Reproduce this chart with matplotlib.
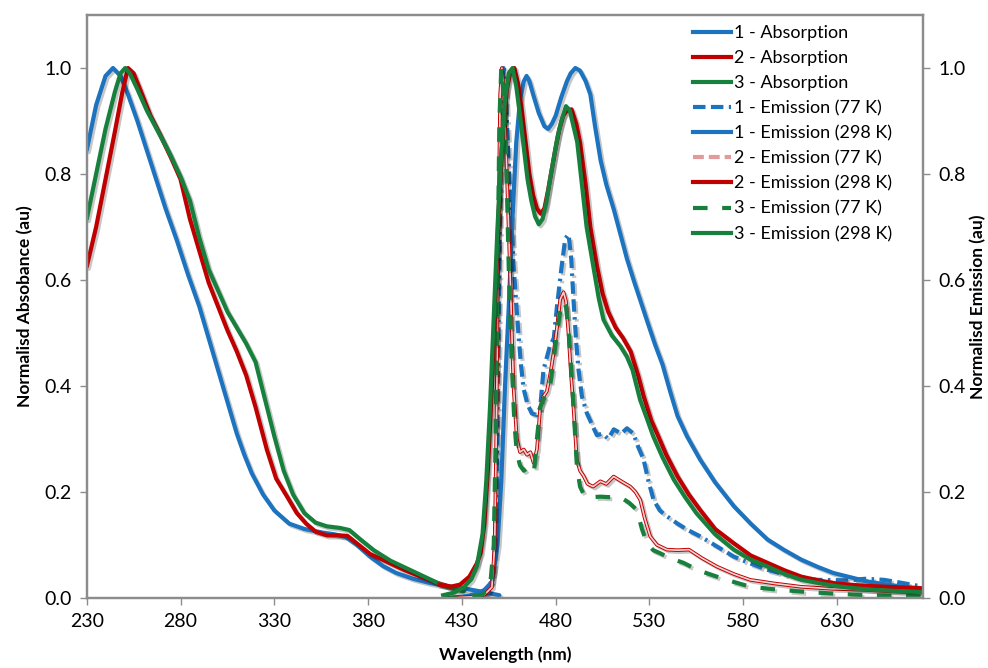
import numpy as np
import matplotlib.pyplot as plt
import matplotlib.patheffects as pe
from matplotlib.lines import Line2D

plt.rcParams['font.family'] = ['Lato', 'DejaVu Sans']
plt.rcParams['font.size'] = 14

# ---- absorption spectra (wavelength in nm, normalised) ----
abs1_wl = [230, 235, 240, 244, 248, 252, 257, 262, 267, 272, 278, 284, 290, 295, 300, 305, 310, 314,
           318, 324, 330, 338, 346, 356, 362, 368, 374, 381, 388, 395, 404, 413, 422, 431, 440, 450]
abs1 = [0.845, 0.93, 0.985, 1.0, 0.985, 0.95, 0.90, 0.845, 0.79, 0.735, 0.675, 0.61, 0.55, 0.49, 0.43,
        0.37, 0.31, 0.27, 0.235, 0.195, 0.165, 0.14, 0.13, 0.123, 0.12, 0.115, 0.10, 0.078, 0.06, 0.047,
        0.036, 0.028, 0.022, 0.018, 0.012, 0.005]

abs2_wl = [230, 235, 240, 245, 249, 252, 255, 259, 264, 269, 275, 280, 285, 290, 295, 300, 305, 310,
           315, 320, 326, 331, 337, 342, 347, 352, 358, 364, 369, 375, 381, 390, 399, 408, 417, 424]
abs2 = [0.625, 0.70, 0.79, 0.88, 0.955, 1.0, 0.99, 0.955, 0.91, 0.875, 0.83, 0.79, 0.715, 0.655, 0.595,
        0.55, 0.505, 0.465, 0.42, 0.36, 0.28, 0.225, 0.19, 0.16, 0.14, 0.125, 0.118, 0.118, 0.117, 0.10,
        0.083, 0.068, 0.053, 0.04, 0.028, 0.021]

abs3_wl = [230, 235, 240, 245, 248, 250.5, 253, 257, 262, 268, 274, 280, 285, 290, 295, 300, 305, 310,
           315, 320, 325, 330, 335, 340, 346, 352, 358, 365, 370, 376, 383, 392, 401, 410, 419, 425, 431]
abs3 = [0.715, 0.80, 0.885, 0.955, 0.99, 1.0, 0.99, 0.96, 0.92, 0.88, 0.84, 0.795, 0.75, 0.68, 0.62,
        0.58, 0.54, 0.51, 0.48, 0.445, 0.375, 0.305, 0.24, 0.195, 0.16, 0.142, 0.135, 0.132, 0.128, 0.11,
        0.09, 0.07, 0.055, 0.04, 0.025, 0.018, 0.012]

# ---- emission at 298 K ----
em298_1_wl = [425, 432, 438, 442, 446, 449, 451, 453, 455, 457, 459, 461, 463, 464.5, 466, 468, 471, 474,
              476, 478, 480, 483, 486, 488, 490.5, 493, 496, 498.5, 501, 504, 507, 511, 515, 518, 522, 525,
              529, 533, 537, 541, 545, 550, 557, 565, 575, 584, 593, 602, 611, 620, 628, 637, 646, 655,
              665, 676]
em298_1 = [0.0, 0.003, 0.008, 0.015, 0.03, 0.1, 0.22, 0.4, 0.55, 0.72, 0.86, 0.94, 0.975, 0.985, 0.975,
           0.95, 0.915, 0.89, 0.885, 0.895, 0.91, 0.945, 0.975, 0.99, 1.0, 0.995, 0.975, 0.95, 0.89,
           0.825, 0.78, 0.733, 0.68, 0.64, 0.595, 0.563, 0.52, 0.478, 0.44, 0.39, 0.343, 0.305, 0.261,
           0.218, 0.173, 0.14, 0.11, 0.09, 0.072, 0.058, 0.047, 0.039, 0.031, 0.026, 0.021, 0.017]

em298_2_wl = [418, 424, 429, 434, 438, 440, 442, 444, 446, 448, 450, 452, 454, 456, 458, 460, 462, 464,
              466, 468, 470, 472, 474, 476, 478, 480, 482, 484, 486, 488.5, 491, 493, 496, 498.5, 502,
              505, 508, 512, 516, 520, 524, 527, 531, 534, 539, 545, 551, 557, 565, 575, 584, 593, 602,
              611, 620, 630, 640, 650, 662, 676]
em298_2 = [0.025, 0.021, 0.025, 0.04, 0.065, 0.085, 0.14, 0.25, 0.4, 0.58, 0.76, 0.89, 0.96, 0.995, 1.0,
           0.97, 0.92, 0.86, 0.8, 0.76, 0.735, 0.725, 0.735, 0.77, 0.81, 0.85, 0.885, 0.91, 0.92, 0.922,
           0.895, 0.86, 0.78, 0.70, 0.627, 0.575, 0.54, 0.51, 0.49, 0.465, 0.42, 0.38, 0.335, 0.311, 0.27,
           0.229, 0.195, 0.166, 0.13, 0.103, 0.08, 0.066, 0.052, 0.04, 0.033, 0.027, 0.024, 0.022, 0.02,
           0.018]

em298_3_wl = [420, 426, 431, 435, 438, 441, 443, 445, 447, 449, 451, 453, 455, 457, 459, 461, 463, 465,
              467, 469, 471, 473, 475, 477, 479, 481, 483, 485.5, 487.5, 489.5, 491.5, 494, 496.5, 500,
              503, 505.5, 510, 514.5, 518, 521, 525, 529, 532, 537, 543, 549, 555, 565, 575, 584, 593,
              602, 611, 620, 630, 640, 650, 662, 676]
em298_3 = [0.005, 0.01, 0.02, 0.035, 0.06, 0.12, 0.22, 0.36, 0.53, 0.7, 0.84, 0.94, 0.99, 1.0, 0.965,
           0.91, 0.85, 0.79, 0.75, 0.72, 0.705, 0.715, 0.745, 0.79, 0.83, 0.87, 0.9, 0.928, 0.92, 0.89,
           0.86, 0.78, 0.70, 0.627, 0.565, 0.525, 0.495, 0.475, 0.455, 0.43, 0.374, 0.335, 0.305, 0.265,
           0.223, 0.19, 0.16, 0.12, 0.091, 0.072, 0.059, 0.045, 0.034, 0.028, 0.022, 0.018, 0.015, 0.013,
           0.011]

# ---- emission at 77 K ----
em77_1_wl = [430, 438, 444, 447, 448.5, 449.5, 450.5, 451.5, 452.2, 453.2, 454.9, 456.2, 457.5, 459,
             460.2, 461.5, 462.9, 465, 467.3, 470, 471.8, 473.5, 475, 477, 479, 480.7, 483, 485.1, 486.9,
             488.3, 489.5, 491, 492.2, 494, 496.7, 499, 502, 505, 508, 511, 515, 518, 521.5, 524, 526.9,
             529.5, 532.2, 535.5, 539.3, 545, 551, 557.1, 566, 574.9, 583, 592.7, 605, 619.3, 635, 645,
             655, 665, 676]
em77_1 = [0.0, 0.003, 0.01, 0.05, 0.2, 0.5, 0.8, 0.96, 1.0, 0.96, 0.83, 0.73, 0.63, 0.555, 0.496, 0.44,
          0.395, 0.365, 0.348, 0.345, 0.36, 0.43, 0.45, 0.476, 0.49, 0.55, 0.62, 0.678, 0.686, 0.64,
          0.563, 0.48, 0.43, 0.38, 0.348, 0.33, 0.307, 0.31, 0.3, 0.318, 0.31, 0.32, 0.31, 0.285, 0.261,
          0.22, 0.185, 0.165, 0.154, 0.14, 0.127, 0.116, 0.097, 0.078, 0.066, 0.053, 0.042, 0.034, 0.033,
          0.036, 0.034, 0.028, 0.021]

em77_2_wl = [425, 435, 442, 446, 447.5, 448.5, 449.5, 450.4, 451.3, 452.5, 454, 455.8, 457.5, 459.3,
             461, 463, 464.7, 466.5, 468.2, 470, 471.8, 473.5, 475.3, 477, 478.9, 480.7, 482.4, 484.2,
             485.5, 486.9, 488.2, 489.5, 491.3, 493, 494.9, 497, 500, 503.8, 507, 510.9, 515, 519.8,
             522.5, 525.1, 527.5, 530.4, 534, 539.3, 545, 551.1, 558, 566, 575, 583.7, 597, 610.6, 628,
             646, 660, 676]
em77_2 = [0.0, 0.002, 0.006, 0.02, 0.1, 0.35, 0.7, 0.95, 1.0, 0.95, 0.8, 0.6, 0.4, 0.3, 0.275, 0.28,
          0.27, 0.275, 0.255, 0.28, 0.36, 0.38, 0.39, 0.42, 0.462, 0.51, 0.563, 0.577, 0.56, 0.496, 0.42,
          0.36, 0.26, 0.24, 0.23, 0.215, 0.21, 0.22, 0.215, 0.229, 0.22, 0.21, 0.2, 0.185, 0.15, 0.116,
          0.1, 0.091, 0.09, 0.091, 0.075, 0.059, 0.045, 0.034, 0.027, 0.021, 0.017, 0.015, 0.012, 0.01]

em77_3_wl = [420, 430, 440, 445, 447, 448, 449, 450, 451, 452, 453.5, 455, 456.5, 458, 459.3, 461, 463,
             465, 467, 468.5, 470, 471.8, 473.5, 475.3, 477, 478.9, 480.7, 482.4, 484, 485.5, 487, 488.5,
             490, 491.3, 493, 495, 496.7, 499, 503.8, 509, 514.4, 519, 523.3, 526, 528.7, 532, 535.8, 541,
             548.2, 556, 566, 575, 583.7, 597, 610.6, 628, 646, 660, 676]
em77_3 = [0.0, 0.001, 0.004, 0.02, 0.1, 0.3, 0.6, 0.9, 1.0, 0.96, 0.85, 0.62, 0.45, 0.33, 0.273, 0.25,
          0.24, 0.245, 0.235, 0.24, 0.3, 0.36, 0.375, 0.385, 0.4, 0.45, 0.5, 0.54, 0.56, 0.55, 0.5, 0.42,
          0.33, 0.25, 0.21, 0.195, 0.19, 0.19, 0.191, 0.19, 0.19, 0.18, 0.166, 0.13, 0.103, 0.09, 0.084,
          0.075, 0.066, 0.052, 0.04, 0.03, 0.021, 0.016, 0.012, 0.008, 0.005, 0.004, 0.003]

labels = ['1 - Absorption', '2 - Absorption', '3 - Absorption',
          '1 - Emission (77 K)', '1 - Emission (298 K)',
          '2 - Emission (77 K)', '2 - Emission (298 K)',
          '3 - Emission (77 K)', '3 - Emission (298 K)']

blue = '#1c73bf'
red = '#c00000'
green = '#17803c'
pale_red = '#e39a9a'
frame = '#8c8c8c'

shadow = [pe.SimpleLineShadow(offset=(1.5, -1.5), shadow_color='k', alpha=0.22), pe.Normal()]
lw = 3.0

fig = plt.figure(figsize=(9.88, 6.68), dpi=100)
ax = fig.add_axes([0.0878, 0.105, 0.8467, 0.8725])

# absorption
ax.plot(abs1_wl, abs1, color=blue, lw=lw, path_effects=shadow, solid_capstyle='round')
ax.plot(abs2_wl, abs2, color=red, lw=lw, path_effects=shadow, solid_capstyle='round')
ax.plot(abs3_wl, abs3, color=green, lw=lw, path_effects=shadow, solid_capstyle='round')

# emission 1
ax.plot(em77_1_wl, em77_1, color=blue, lw=lw, dashes=(3, 1.3, 3, 1.3, 0.6, 1.3), path_effects=shadow)
ax.plot(em298_1_wl, em298_1, color=blue, lw=lw, path_effects=shadow)
# emission 2 (77 K drawn as a thin double line)
ax.plot(em77_2_wl, em77_2, color=red, lw=2.6, path_effects=shadow)
ax.plot(em77_2_wl, em77_2, color='#f7d4d4', lw=1.2)
ax.plot(em298_2_wl, em298_2, color=red, lw=lw, path_effects=shadow)
# emission 3
ax.plot(em77_3_wl, em77_3, color=green, lw=lw, dashes=(3.5, 3.5), path_effects=shadow)
ax.plot(em298_3_wl, em298_3, color=green, lw=lw, path_effects=shadow)

ax.set_xlim(230, 676)
ax.set_ylim(0, 1.1)
ax.set_xticks(np.arange(230, 631, 50))
ax.set_yticks(np.arange(0, 1.01, 0.2))
ax.yaxis.set_major_formatter(plt.FormatStrFormatter('%.1f'))
ax.set_xlabel('Wavelength (nm)', fontsize=12.5, fontweight='bold', labelpad=12)
ax.set_ylabel('Normalisd Absobance (au)', fontsize=12.5, fontweight='bold', labelpad=8)

ax2 = ax.twinx()
ax2.set_ylim(0, 1.1)
ax2.set_yticks(np.arange(0, 1.01, 0.2))
ax2.yaxis.set_major_formatter(plt.FormatStrFormatter('%.1f'))
ax2.set_ylabel('Normalisd Emission (au)', fontsize=12.5, fontweight='bold', labelpad=3)

for a in (ax, ax2):
    for s in a.spines.values():
        s.set_color(frame)
        s.set_linewidth(1.6)
    a.tick_params(direction='out', length=5, width=1, color=frame, labelsize=14, pad=6)

handles = [
    Line2D([], [], color=blue, lw=lw),
    Line2D([], [], color=red, lw=lw),
    Line2D([], [], color=green, lw=lw),
    Line2D([], [], color=blue, lw=lw, dashes=(3, 1.3, 3, 1.3, 0.6, 1.3)),
    Line2D([], [], color=blue, lw=lw),
    Line2D([], [], color=pale_red, lw=lw, dashes=(2.6, 1.2)),
    Line2D([], [], color=red, lw=lw),
    Line2D([], [], color=green, lw=lw, dashes=(3.5, 3.5)),
    Line2D([], [], color=green, lw=lw),
]
fig.legend(handles, labels, loc='upper left', bbox_to_anchor=(0.692, 0.976), frameon=False,
           fontsize=13, handlelength=2.1, handletextpad=0.2, labelspacing=0.5, borderpad=0)

fig.savefig('out.png', dpi=100)
